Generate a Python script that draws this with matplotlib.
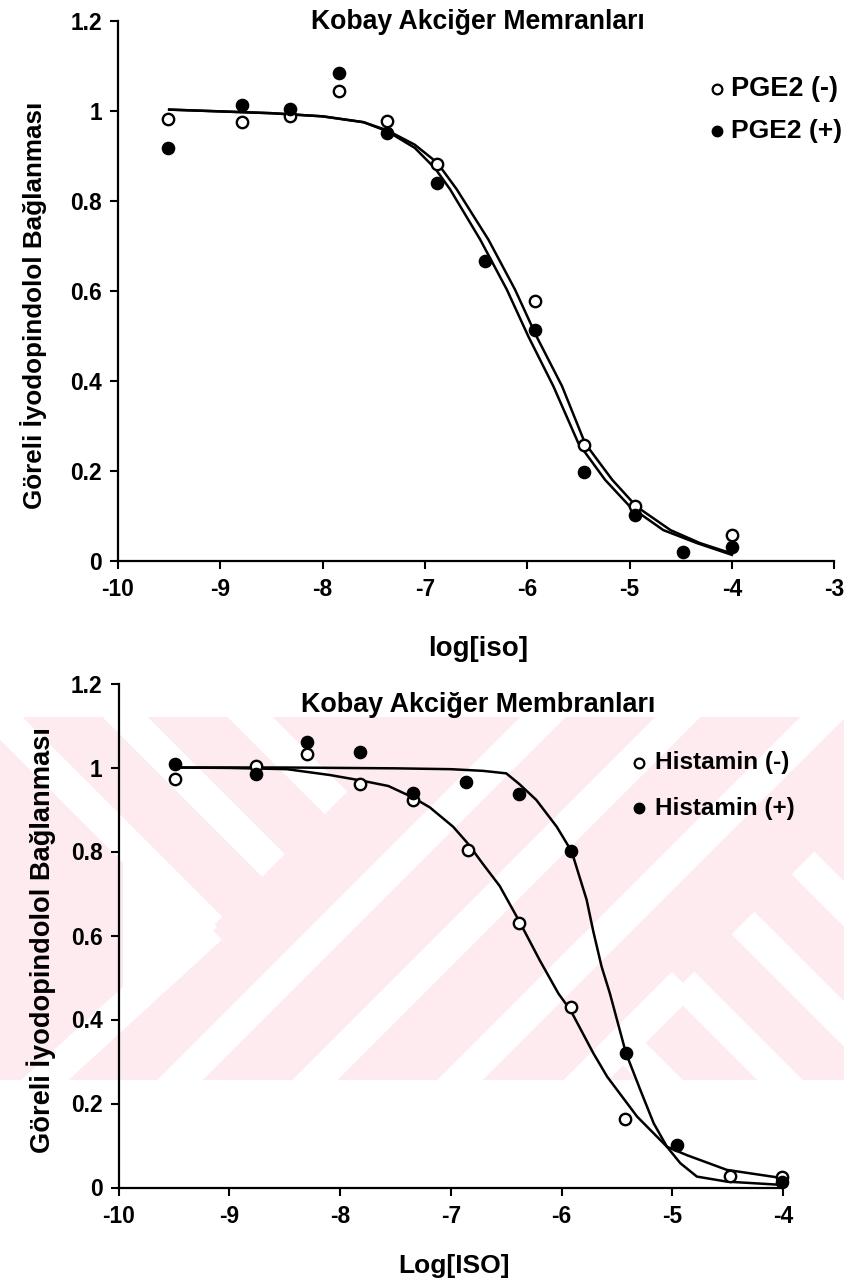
import matplotlib
matplotlib.use("Agg")
import matplotlib.pyplot as plt
from matplotlib.patches import Polygon, Rectangle
from matplotlib.transforms import Affine2D
from matplotlib.lines import Line2D
import numpy as np

# ---------------- data ----------------
# Upper panel: PGE2
pge_minus_x = [-9.51, -8.79, -8.32, -7.84, -7.37, -6.88, -5.92, -5.445, -4.95, -4.0]
pge_minus_y = [0.982, 0.976, 0.989, 1.044, 0.978, 0.883, 0.577, 0.258, 0.122, 0.057]
pge_plus_x = [-9.51, -8.79, -8.32, -7.84, -7.37, -6.88, -6.41, -5.92, -5.445, -4.95, -4.48, -4.0]
pge_plus_y = [0.918, 1.014, 1.005, 1.085, 0.952, 0.840, 0.666, 0.514, 0.198, 0.102, 0.020, 0.031]

pge_minus_fit_x = [-9.5, -9.0, -8.5, -8.0, -7.6, -7.37, -7.1, -6.88, -6.69, -6.38, -6.12,
                   -5.91, -5.66, -5.435, -5.17, -4.93, -4.60, -4.31, -4.0]
pge_minus_fit_y = [1.003, 0.999, 0.995, 0.988, 0.975, 0.957, 0.925, 0.885, 0.826, 0.714, 0.603,
                   0.499, 0.388, 0.261, 0.180, 0.120, 0.068, 0.039, 0.016]
pge_plus_fit_x = [-9.5, -9.0, -8.5, -8.0, -7.6, -7.37, -7.1, -6.9, -6.755, -6.46, -6.20,
                  -5.99, -5.745, -5.50, -5.24, -4.995, -4.67, -4.34, -4.0]
pge_plus_fit_y = [1.003, 0.999, 0.995, 0.988, 0.975, 0.955, 0.918, 0.872, 0.826, 0.714, 0.603,
                  0.499, 0.388, 0.261, 0.180, 0.120, 0.068, 0.039, 0.013]

# Lower panel: Histamin
his_minus_x = [-9.49, -8.76, -8.30, -7.82, -7.34, -6.85, -6.385, -5.92, -5.43, -4.48, -4.01]
his_minus_y = [0.973, 1.004, 1.032, 0.961, 0.923, 0.804, 0.629, 0.430, 0.162, 0.028, 0.024]
his_plus_x = [-9.49, -8.76, -8.30, -7.82, -7.345, -6.86, -6.385, -5.92, -5.42, -4.96, -4.01]
his_plus_y = [1.008, 0.985, 1.061, 1.036, 0.940, 0.966, 0.937, 0.802, 0.320, 0.101, 0.014]

his_minus_fit_x = [-9.49, -9.0, -8.48, -8.09, -7.81, -7.565, -7.345, -7.19, -6.98, -6.85, -6.71,
                   -6.56, -6.385, -6.196, -6.03, -5.92, -5.715, -5.59, -5.32, -5.05, -4.87,
                   -4.51, -4.0]
his_minus_fit_y = [1.000, 0.999, 0.996, 0.982, 0.969, 0.956, 0.929, 0.905, 0.859, 0.820, 0.770,
                   0.718, 0.635, 0.540, 0.462, 0.422, 0.320, 0.264, 0.169, 0.097, 0.077,
                   0.042, 0.022]
his_plus_fit_x = [-9.49, -9.0, -8.5, -8.0, -7.5, -7.0, -6.71, -6.50, -6.38, -6.23, -6.045,
                  -5.91, -5.775, -5.715, -5.64, -5.565, -5.42, -5.29, -5.17, -5.05, -4.93,
                  -4.78, -4.51, -4.0]
his_plus_fit_y = [1.000, 1.000, 1.000, 0.999, 0.998, 0.996, 0.992, 0.986, 0.960, 0.923, 0.859,
                  0.800, 0.685, 0.610, 0.526, 0.462, 0.320, 0.232, 0.153, 0.097, 0.058,
                  0.026, 0.014, 0.006]

top_xticks = [-10, -9, -8, -7, -6, -5, -4, -3]
bot_xticks = [-10, -9, -8, -7, -6, -5, -4]
yticks = [0, 0.2, 0.4, 0.6, 0.8, 1.0, 1.2]
ytick_labels = ["0", "0.2", "0.4", "0.6", "0.8", "1", "1.2"]

title_top = "Kobay Akciğer Memranları"
title_bot = "Kobay Akciğer Membranları"
ylabel_text = "Göreli İyodopindolol Bağlanması"
xlabel_top = "log[iso]"
xlabel_bot = "Log[ISO]"
legend_top = ["PGE2 (-)", "PGE2 (+)"]
legend_bot = ["Histamin (-)", "Histamin (+)"]

# ---------------- figure ----------------
W, H = 844, 1283
plt.rcParams["font.family"] = ["Liberation Sans", "DejaVu Sans"]
plt.rcParams["font.weight"] = "bold"
fig = plt.figure(figsize=(W / 100, H / 100), dpi=100)
fig.patch.set_facecolor("white")
PX = Affine2D().scale(1.0 / W, -1.0 / H).translate(0, 1) + fig.transFigure

# ---------------- watermark (decoration) ----------------
PINK = "#fdebf0"
wm_top, wm_bot = 717, 1080
bg = Rectangle((0, wm_top), W, wm_bot - wm_top, transform=PX, facecolor=PINK,
               edgecolor="none", zorder=-20)
fig.patches.append(bg)


def band(p0, p1, w=32):
    p0 = np.array(p0, float)
    p1 = np.array(p1, float)
    d = p1 - p0
    d /= np.hypot(*d)
    n = np.array([-d[1], d[0]]) * w / 2
    return [p0 + n, p1 + n, p1 - n, p0 - n]


shapes = []
Lsum = 1139
for c in [717, 592, 467]:          # "\" stripes upper-left, ending at x+y=L
    xe = (Lsum - c) / 2
    shapes.append(band((xe - 260, xe - 260 + c), (xe, xe + c)))
Lband = 1123
shapes.append(band((Lband - 1100, 1100), ((Lsum - 717) / 2, (Lsum + 717) / 2)))
shapes.append([(217, 927), (123, 833), (123, 1022)])   # filled tip of the left chevron
for d in [1260, 1395, 1540]:       # "/" stripes middle
    shapes.append(band((d - 1100, 1100), (d - 700, 700)))
G = 1666
shapes.append(band((G - 1100, 1100), ((G - 300) / 2, (G + 300) / 2)))
for c in [420, 300, 180, 60]:      # "\" stripes right
    xs = (G - c) / 2
    shapes.append(band((xs, xs + c), (xs + 300, xs + c + 300)))
for s in shapes:
    p = Polygon(s, closed=True, transform=PX, facecolor="white", edgecolor="none", zorder=-15)
    p.set_clip_path(bg)
    fig.patches.append(p)

# ---------------- axes ----------------
ax1 = fig.add_axes([118 / W, 1 - 560.7 / H, (834.2 - 118) / W, (560.7 - 21) / H])
ax2 = fig.add_axes([118.5 / W, 1 - 1187.5 / H, (783.3 - 118.5) / W, (1187.5 - 683.5) / H])

TICKFS = 16.4
for ax, xt, xl in [(ax1, top_xticks, (-10, -3)), (ax2, bot_xticks, (-10, -4))]:
    ax.set_facecolor("none")
    ax.set_xlim(*xl)
    ax.set_ylim(0, 1.2)
    ax.set_xticks(xt)
    ax.set_xticklabels([str(v) for v in xt])
    ax.set_yticks(yticks)
    ax.set_yticklabels(ytick_labels)
    for s in ["top", "right"]:
        ax.spines[s].set_visible(False)
    for s in ["left", "bottom"]:
        ax.spines[s].set_linewidth(1.6)
    ax.tick_params(direction="out", length=5.5, width=1.5, labelsize=TICKFS)
    ax.tick_params(axis="x", pad=7)
    ax.tick_params(axis="y", pad=6)
    for lab in ax.get_xticklabels() + ax.get_yticklabels():
        lab.set_fontweight("bold")

LW = 1.8
MS = 8.2
open_kw = dict(linestyle="none", marker="o", markersize=MS, markerfacecolor="white",
               markeredgecolor="black", markeredgewidth=1.7, clip_on=False, zorder=5)
fill_kw = dict(linestyle="none", marker="o", markersize=MS + 0.6, markerfacecolor="black",
               markeredgecolor="black", clip_on=False, zorder=6)

ax1.plot(pge_minus_fit_x, pge_minus_fit_y, color="black", lw=LW, clip_on=False, zorder=3)
ax1.plot(pge_plus_fit_x, pge_plus_fit_y, color="black", lw=LW, clip_on=False, zorder=3)
ax1.plot(pge_minus_x, pge_minus_y, **open_kw)
ax1.plot(pge_plus_x, pge_plus_y, **fill_kw)

ax2.plot(his_minus_fit_x, his_minus_fit_y, color="black", lw=LW, clip_on=False, zorder=3)
ax2.plot(his_plus_fit_x, his_plus_fit_y, color="black", lw=LW, clip_on=False, zorder=3)
ax2.plot(his_minus_x, his_minus_y, **open_kw)
ax2.plot(his_plus_x, his_plus_y, **fill_kw)

# ---------------- texts ----------------
renderer = fig.canvas.get_renderer()


def ptext(x, y, s, target, rotation=0, ha="center", va="center", size=18):
    t = fig.text(x, y, s, transform=PX, ha=ha, va=va, rotation=rotation,
                 fontsize=size, fontweight="bold")
    bb = t.get_window_extent(renderer=renderer)
    cur = bb.height if rotation else bb.width
    t.set_fontsize(size * target / cur)
    return t


ptext(478, 22, title_top, 335)
ptext(478, 705, title_bot, 354)
ptext(34, 305, ylabel_text, 406, rotation=90)
ptext(41, 940, ylabel_text, 425, rotation=90)
ptext(478, 649, xlabel_top, 100)
ptext(454, 1266, xlabel_bot, 111)

# manual legends
leg_open = dict(marker="o", markersize=7, markerfacecolor="white", markeredgecolor="black",
                markeredgewidth=1.6, linestyle="none")
leg_fill = dict(marker="o", markersize=7.5, markerfacecolor="black", markeredgecolor="black",
                linestyle="none")
for (mx, my, tx, txt, tw, kw) in [
        (717, 89, 731, legend_top[0], 107, leg_open),
        (717, 131, 731, legend_top[1], 111, leg_fill),
        (639, 763, 655, legend_bot[0], 134, leg_open),
        (639, 808, 655, legend_bot[1], 139, leg_fill)]:
    fig.add_artist(Line2D([mx], [my], transform=PX, **kw))
    ptext(tx, my, txt, tw, ha="left")

fig.savefig("out.png", dpi=100, facecolor="white")
